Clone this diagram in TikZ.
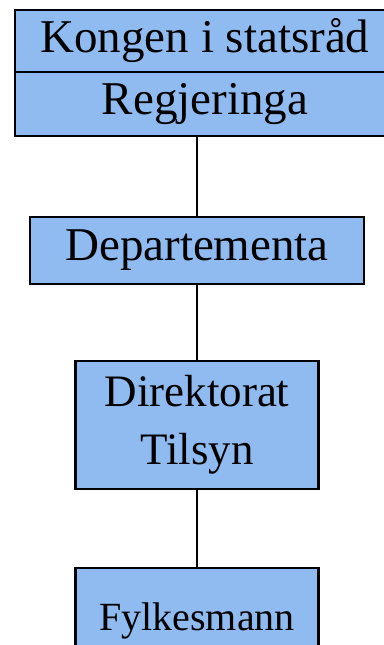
\documentclass[tikz,border=0pt]{standalone}
\usepackage{fontspec}
\setmainfont{Liberation Serif}
\usepackage{tikz}
\usetikzlibrary{positioning}
\usepackage{xcolor}
\definecolor{boxblue}{RGB}{143,187,240}
\tikzstyle{unit} = [%
  rectangle,
  draw=black,
  line width=1.8pt,
  fill=boxblue,
  align=center,
  text centered,
  inner sep=0pt,
  outer sep=0pt
]

\begin{document}
\begin{tikzpicture}[%
  every node/.style={%
    text=black,
    text centered,
    align=center
  },
  link/.style={draw=black,line width=1.5pt}
]

  \useasboundingbox (0pt,0pt) rectangle (288pt,-483.75pt);
  \clip (0pt,0pt) rectangle (288pt,-483.75pt);

  % Nodes
  \node[unit,minimum width=250.5pt,minimum height=50.25pt,
        font=\fontsize{35.25}{42}\selectfont] (D1) at (147.75pt,-187.9pt) {Departementa};
  \node[unit,minimum width=285pt,minimum height=48pt,xshift=6pt,above=60.75pt of D1,
        font=\fontsize{35.25}{42}\selectfont] (R1) {Regjeringa};
  \node[unit,minimum width=285pt,minimum height=46.5pt,above=0pt of R1,
        font=\fontsize{35.25}{42}\selectfont] (K1) {Kongen i statsråd};
  \node[unit,minimum width=182.25pt,minimum height=96pt,below=57.75pt of D1,
        font=\fontsize{33.75}{43.3}\selectfont] (T1) {Direktorat\\Tilsyn};
  \node[unit,minimum width=182.25pt,minimum height=79pt,below=59.25pt of T1,
        font=\fontsize{30}{36}\selectfont] (F1) {Fylkesmann};

  % Edges
  \draw[link] (R1.south -| D1.north) -- (D1.north);
  \draw[link] (D1.south) -- (T1.north);
  \draw[link] (T1.south) -- (F1.north);

\end{tikzpicture}
\end{document}
